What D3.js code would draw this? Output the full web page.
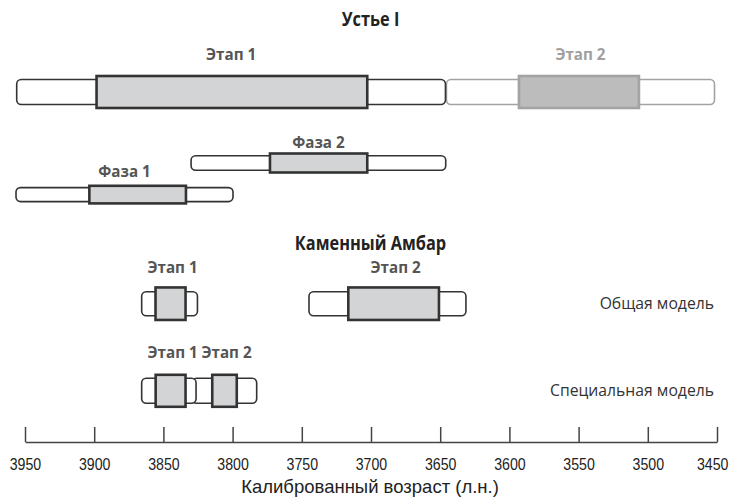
<!DOCTYPE html>
<html>
<head>
<meta charset="utf-8">
<script src="https://cdn.jsdelivr.net/npm/d3@7"></script>
<style>
  body { margin: 0; background: #fff; }
  svg { display: block; }
</style>
</head>
<body>
<script>
// data (calibrated years BP)
const groupTitles = ["Устье I", "Каменный Амбар"];
const stageNames = ["Этап 1", "Этап 2", "Фаза 2", "Фаза 1", "Этап 1", "Этап 2", "Этап 1", "Этап 2"];
const stageRows  = ["ustE", "ustE", "ustF2", "ustF1", "kaGen", "kaGen", "kaSpec", "kaSpec"];
const outerFrom  = [3956, 3645.5, 3830, 3956.5, 3865.7, 3744.8, 3865.7, 3829.3];
const outerTo    = [3646.2, 3451.8, 3646, 3799.7, 3825.4, 3631.4, 3826.4, 3782.6];
const innerFrom  = [3898.3, 3593.1, 3773, 3903.5, 3855.7, 3716.4, 3855.6, 3814.7];
const innerTo    = [3702.7, 3506.4, 3702.7, 3833.7, 3834, 3650.9, 3834, 3797];
const modelNames = ["Общая модель", "Специальная модель"];
const modelRows  = ["kaGen", "kaSpec"];
const tickValues = [3950, 3900, 3850, 3800, 3750, 3700, 3650, 3600, 3550, 3500, 3450];
const axisTitle  = "Калиброванный возраст (л.н.)";

var width = 733, height = 497;
var mutedStage = 1; // Этап 2 of Устье I drawn in grey

const stages = stageNames.map(function(n, i){
  return {name: n, row: stageRows[i], o0: outerFrom[i], o1: outerTo[i], i0: innerFrom[i], i1: innerTo[i], muted: i === mutedStage};
});

var x = d3.scaleLinear().domain([3950, 3450]).range([25, 717]);

var rowKeys = ["ustE", "ustF2", "ustF1", "kaGen", "kaSpec"];
var rowY     = d3.scaleOrdinal().domain(rowKeys).range([92, 163, 194.6, 303.7, 390.8]);
var outerH   = d3.scaleOrdinal().domain(rowKeys).range([25, 14.5, 14, 24, 25]);
var innerH   = d3.scaleOrdinal().domain(rowKeys).range([32, 19, 17.6, 32.5, 32]);
var labelY   = d3.scaleOrdinal().domain(rowKeys).range([60, 148.3, 177, 273, 358]);

var svg = d3.select("body").append("svg")
    .attr("width", width).attr("height", height);

// narrow the text the way the condensed face of the original does
function condense(sel, k){
  sel.each(function(){
    var w = this.getComputedTextLength();
    d3.select(this).attr("textLength", w * k).attr("lengthAdjust", "spacingAndGlyphs");
  });
}

// group titles
svg.selectAll(".gtitle").data(groupTitles).enter().append("text")
    .attr("class", "gtitle")
    .attr("x", 370.5)
    .attr("y", function(d, i){ return i === 0 ? 26 : 250; })
    .attr("text-anchor", "middle")
    .style("font-family", "'Open Sans', sans-serif")
    .style("font-weight", "bold")
    .style("font-size", "19px")
    .style("fill", "#222")
    .text(function(d){ return d; })
    .call(condense, 0.86);

// outer (full) ranges, later ones underneath
var bars = svg.append("g");
bars.selectAll(".outer").data(stages.slice().reverse()).enter().append("rect")
    .attr("class", "outer")
    .attr("x", function(d){ return x(d.o0); })
    .attr("width", function(d){ return x(d.o1) - x(d.o0); })
    .attr("y", function(d){ return rowY(d.row) - outerH(d.row) / 2; })
    .attr("height", function(d){ return outerH(d.row); })
    .attr("rx", 4.5).attr("ry", 4.5)
    .style("fill", "#fff")
    .style("stroke", function(d){ return d.muted ? "#a3a3a3" : "#333"; })
    .style("stroke-width", 1.6);

// inner ranges
bars.selectAll(".inner").data(stages).enter().append("rect")
    .attr("class", "inner")
    .attr("x", function(d){ return x(d.i0); })
    .attr("width", function(d){ return x(d.i1) - x(d.i0); })
    .attr("y", function(d){ return rowY(d.row) - innerH(d.row) / 2; })
    .attr("height", function(d){ return innerH(d.row); })
    .style("fill", function(d){ return d.muted ? "#bcbcbc" : "#d3d4d6"; })
    .style("stroke", function(d){ return d.muted ? "#a3a3a3" : "#333"; })
    .style("stroke-width", 2.6);

// stage labels
svg.selectAll(".slabel").data(stages).enter().append("text")
    .attr("class", "slabel")
    .attr("x", function(d){
      return d.row.indexOf("ust") === 0 ? (x(d.o0) + x(d.o1)) / 2 : (x(d.i0) + x(d.i1)) / 2 + 2;
    })
    .attr("y", function(d){ return labelY(d.row); })
    .attr("text-anchor", "middle")
    .style("font-family", "'Open Sans', sans-serif")
    .style("font-weight", "bold")
    .style("font-size", "16.5px")
    .style("fill", function(d){ return d.muted ? "#a0a0a0" : "#555"; })
    .text(function(d){ return d.name; })
    .call(condense, 0.92);

// model labels on the right
svg.selectAll(".mlabel").data(modelNames).enter().append("text")
    .attr("class", "mlabel")
    .attr("x", 714)
    .attr("y", function(d, i){ return rowY(modelRows[i]) + 5.5; })
    .attr("text-anchor", "end")
    .style("font-family", "'Open Sans', sans-serif")
    .style("font-size", "17px")
    .style("fill", "#333")
    .text(function(d){ return d; })
    .call(condense, 0.925);

// axis
var axis = d3.axisTop(x).tickValues(tickValues).tickSize(15).tickSizeOuter(0).tickFormat(d3.format("d"));
var ax = svg.append("g").attr("transform", "translate(0,442)").call(axis);
ax.select(".domain").style("stroke", "#444").style("stroke-width", 1.5);
ax.selectAll(".tick line").style("stroke", "#444").style("stroke-width", 1.5);
ax.selectAll(".tick text")
    .attr("y", 28).attr("dy", null)
    .style("font-family", "'Liberation Sans', Arial, sans-serif")
    .style("font-size", "16.5px")
    .style("fill", "#222")
    .attr("textLength", 31.5).attr("lengthAdjust", "spacingAndGlyphs");
// last label sits against the right edge of the page
ax.selectAll(".tick text").filter(function(d){ return d === 3450; })
    .attr("text-anchor", "end").attr("x", 11);

svg.append("text")
    .attr("x", 370).attr("y", 493)
    .attr("text-anchor", "middle")
    .style("font-family", "'Liberation Sans', Arial, sans-serif")
    .style("font-size", "18.5px")
    .style("fill", "#222")
    .text(axisTitle);
</script>
</body>
</html>
